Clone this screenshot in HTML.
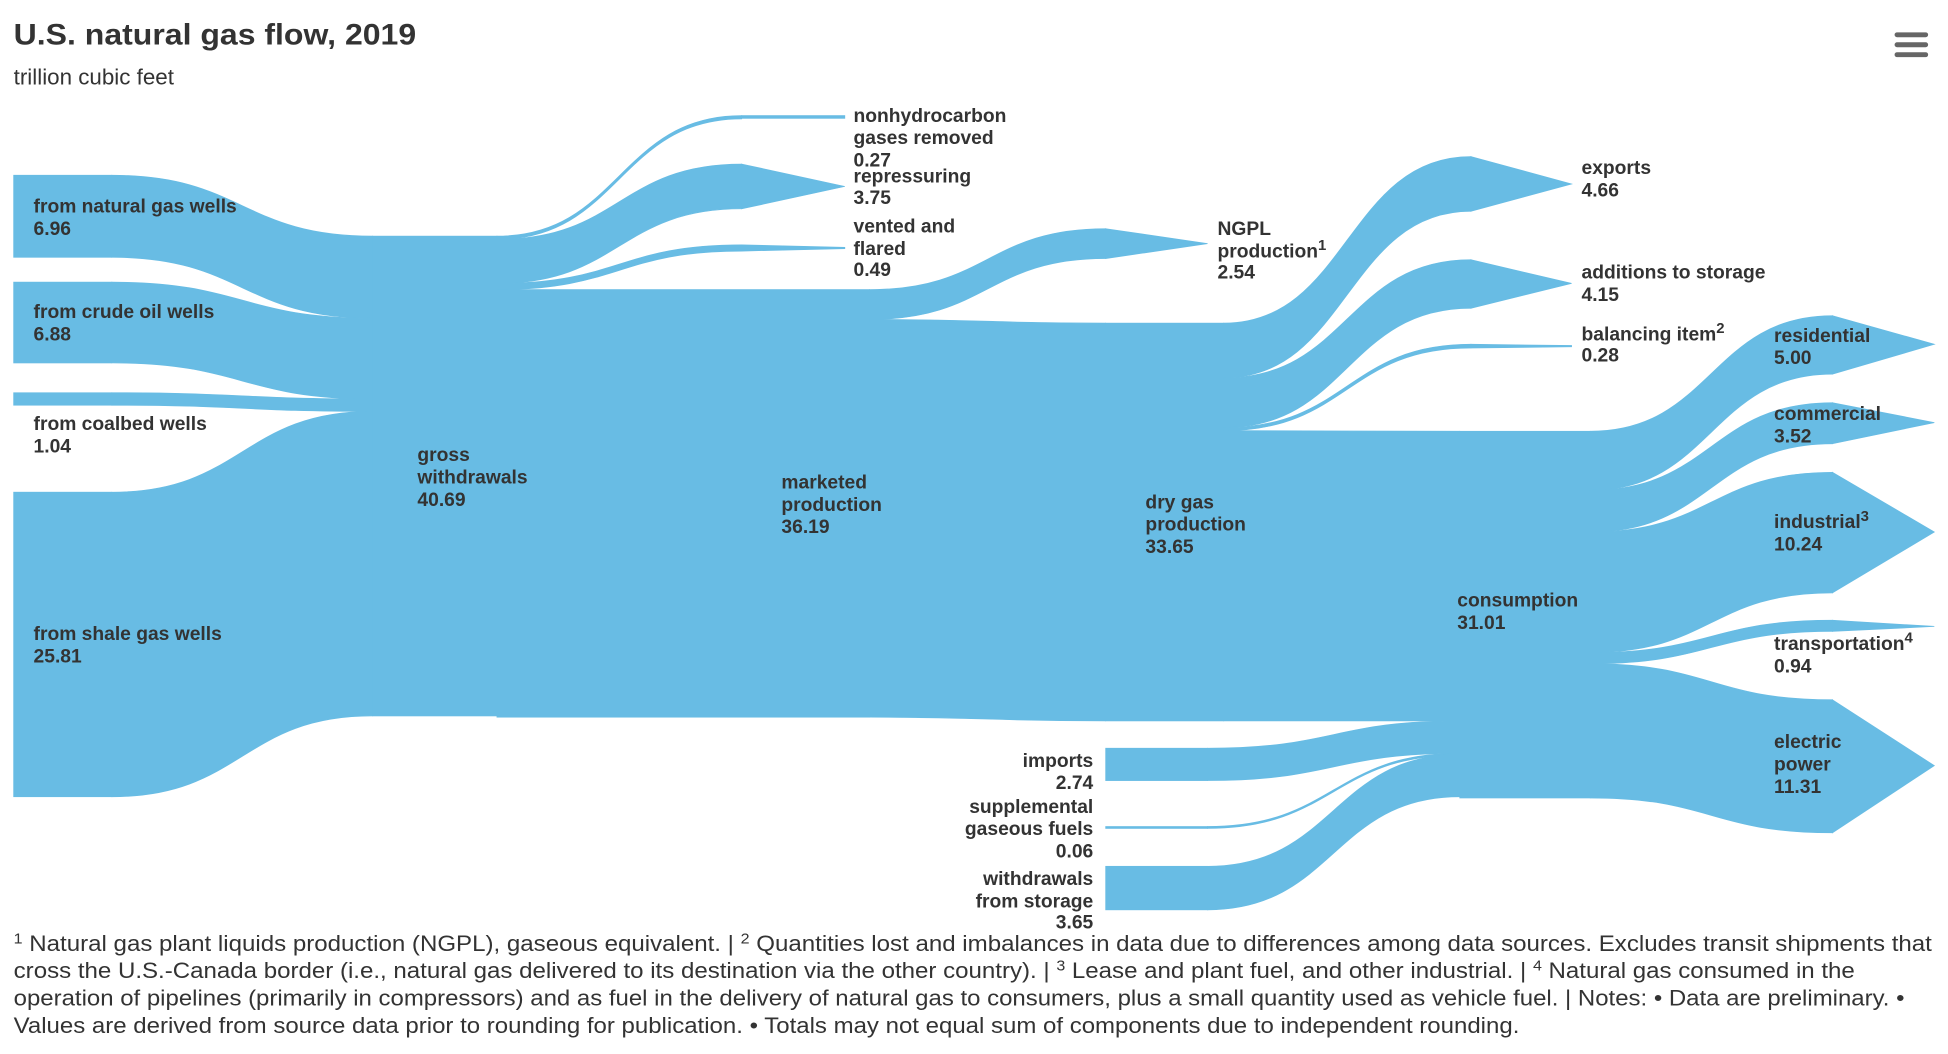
<!DOCTYPE html>
<html><head><meta charset="utf-8"><style>
html,body{margin:0;padding:0;background:#fff;}
svg{display:block;}
text{font-family:"Liberation Sans",Arial,sans-serif;fill:#333;}
.l{font-size:15.5px;font-weight:bold;}
</style></head><body>
<svg width="1948" height="1054" viewBox="0 0 1568 848" preserveAspectRatio="none" xmlns="http://www.w3.org/2000/svg">
<g fill="#68bce4" stroke="#68bce4" stroke-width="0.6">
<rect x="11" y="141" width="79" height="66"/>
<rect x="11" y="227" width="79" height="65"/>
<rect x="11" y="316" width="79" height="10"/>
<rect x="11" y="396" width="79" height="245"/>
<path d="M90 141 C195 141 195 190 300 190 L300 256 C195 256 195 207 90 207Z"/>
<path d="M90 227 C195 227 195 256 300 256 L300 321 C195 321 195 292 90 292Z"/>
<path d="M90 316 C195 316 195 321 300 321 L300 331 C195 331 195 326 90 326Z"/>
<path d="M90 396 C195 396 195 331 300 331 L300 576 C195 576 195 641 90 641Z"/>
<rect x="300" y="190" width="100" height="386"/>
<path d="M400 190 C498.5 190 498.5 93 597 93 L597 95.6 C498.5 95.6 498.5 192.6 400 192.6Z"/>
<rect x="597" y="93" width="83" height="2.2"/>
<path d="M400 192.6 C498.5 192.6 498.5 132 597 132 L597 168 C498.5 168 498.5 228 400 228Z"/>
<polygon points="597,132 680,150 597,168"/>
<path d="M400 228 C498.5 228 498.5 197 597 197 L597 202 C498.5 202 498.5 233 400 233Z"/>
<polygon points="597,197 680,199 680,200 597,202"/>
<rect x="400" y="233" width="300" height="344"/>
<path d="M700 233 C795 233 795 184 890 184 L890 208 C795 208 795 257 700 257Z"/>
<polygon points="890,184 972,196 890,208"/>
<path d="M700 257 C795 257 795 260 890 260 L890 580 C795 580 795 577 700 577Z"/>
<rect x="890" y="260" width="95" height="320"/>
<path d="M985 260 C1084.5 260 1084.5 126 1184 126 L1184 170 C1084.5 170 1084.5 304 985 304Z"/>
<polygon points="1184,126 1265,148 1184,170"/>
<path d="M985 304 C1084.5 304 1084.5 209 1184 209 L1184 248 C1084.5 248 1084.5 344 985 344Z"/>
<polygon points="1184,209 1265,228 1184,248"/>
<path d="M985 344 C1084.5 344 1084.5 277 1184 277 L1184 280 C1084.5 280 1084.5 346.5 985 346.5Z"/>
<polygon points="1184,277 1265,278 1265,279 1184,280"/>
<path d="M985 346.5 C1080 346.5 1080 347 1175 347 L1175 580 C1080 580 1080 580 985 580Z"/>
<rect x="890" y="602" width="82" height="26"/>
<rect x="890" y="665" width="82" height="1.5"/>
<rect x="890" y="697" width="82" height="35"/>
<path d="M972 602 C1073.5 602 1073.5 580 1175 580 L1175 606 C1073.5 606 1073.5 628 972 628Z"/>
<path d="M972 665 C1073.5 665 1073.5 606 1175 606 L1175 607.5 C1073.5 607.5 1073.5 666.5 972 666.5Z"/>
<path d="M972 697 C1073.5 697 1073.5 607 1175 607 L1175 641 C1073.5 641 1073.5 732 972 732Z"/>
<rect x="1175" y="347" width="105" height="295"/>
<path d="M1280 347 C1377.5 347 1377.5 254 1475 254 L1475 301 C1377.5 301 1377.5 394.5 1280 394.5Z"/>
<polygon points="1475,254 1557,277 1475,301"/>
<path d="M1280 394.5 C1377.5 394.5 1377.5 324 1475 324 L1475 357 C1377.5 357 1377.5 428 1280 428Z"/>
<polygon points="1475,324 1557,340 1475,357"/>
<path d="M1280 428 C1377.5 428 1377.5 380 1475 380 L1475 477 C1377.5 477 1377.5 525 1280 525Z"/>
<polygon points="1475,380 1557,428 1475,477"/>
<path d="M1280 525 C1377.5 525 1377.5 499 1475 499 L1475 508 C1377.5 508 1377.5 534 1280 534Z"/>
<polygon points="1475,499 1557,504 1475,508"/>
<path d="M1280 534 C1377.5 534 1377.5 563 1475 563 L1475 670 C1377.5 670 1377.5 642 1280 642Z"/>
<polygon points="1475,563 1557,616 1475,670"/>
</g>
<text x="11" y="36" style="font-size:24px;font-weight:bold" textLength="324" lengthAdjust="spacingAndGlyphs">U.S. natural gas flow, 2019</text>
<text x="11" y="68" style="font-size:18px">trillion cubic feet</text>
<g fill="#666"><rect x="1525" y="26" width="27" height="4" rx="2"/><rect x="1525" y="34" width="27" height="4" rx="2"/><rect x="1525" y="42" width="27" height="4" rx="2"/></g>
<g class="l">
<text class="l" x="27" y="171">from natural gas wells</text><text class="l" x="27" y="189">6.96</text>
<text class="l" x="27" y="256">from crude oil wells</text><text class="l" x="27" y="274">6.88</text>
<text class="l" x="27" y="346">from coalbed wells</text><text class="l" x="27" y="364">1.04</text>
<text class="l" x="27" y="515">from shale gas wells</text><text class="l" x="27" y="533">25.81</text>
<text class="l" x="336" y="371">gross</text><text class="l" x="336" y="389">withdrawals</text><text class="l" x="336" y="407">40.69</text>
<text class="l" x="687" y="98">nonhydrocarbon</text><text class="l" x="687" y="116">gases removed</text><text class="l" x="687" y="134">0.27</text>
<text class="l" x="687" y="147">repressuring</text><text class="l" x="687" y="164">3.75</text>
<text class="l" x="687" y="187">vented and</text><text class="l" x="687" y="205">flared</text><text class="l" x="687" y="222">0.49</text>
<text class="l" x="629" y="393">marketed</text><text class="l" x="629" y="411">production</text><text class="l" x="629" y="429">36.19</text>
<text class="l" x="980" y="189">NGPL</text><text class="l" x="980" y="207">production<tspan dy="-6" font-size="12">1</tspan></text><text class="l" x="980" y="224">2.54</text>
<text class="l" x="922" y="409">dry gas</text><text class="l" x="922" y="427">production</text><text class="l" x="922" y="445">33.65</text>
<text class="l" x="1273" y="140">exports</text><text class="l" x="1273" y="158">4.66</text>
<text class="l" x="1273" y="224">additions to storage</text><text class="l" x="1273" y="242">4.15</text>
<text class="l" x="1273" y="274">balancing item<tspan dy="-6" font-size="12">2</tspan></text><text class="l" x="1273" y="291">0.28</text>
<text class="l" x="1428" y="275">residential</text><text class="l" x="1428" y="293">5.00</text>
<text class="l" x="1428" y="338">commercial</text><text class="l" x="1428" y="356">3.52</text>
<text class="l" x="1428" y="425">industrial<tspan dy="-6" font-size="12">3</tspan></text><text class="l" x="1428" y="443">10.24</text>
<text class="l" x="1173" y="488">consumption</text><text class="l" x="1173" y="506">31.01</text>
<text class="l" x="1428" y="523">transportation<tspan dy="-6" font-size="12">4</tspan></text><text class="l" x="1428" y="541">0.94</text>
<text class="l" x="1428" y="602">electric</text><text class="l" x="1428" y="620">power</text><text class="l" x="1428" y="638">11.31</text>
<g text-anchor="end">
<text class="l" x="880" y="617">imports</text><text class="l" x="880" y="635">2.74</text>
<text class="l" x="880" y="654">supplemental</text><text class="l" x="880" y="672">gaseous fuels</text><text class="l" x="880" y="690">0.06</text>
<text class="l" x="880" y="712">withdrawals</text><text class="l" x="880" y="730">from storage</text><text class="l" x="880" y="747">3.65</text>
</g>
</g>
<g style="font-size:18px">
<text x="11" y="765" textLength="1544" lengthAdjust="spacingAndGlyphs"><tspan font-size="12" dy="-6">1</tspan><tspan dy="6"> Natural gas plant liquids production (NGPL), gaseous equivalent. | </tspan><tspan font-size="12" dy="-6">2</tspan><tspan dy="6"> Quantities lost and imbalances in data due to differences among data sources. Excludes transit shipments that</tspan></text>
<text x="11" y="787" textLength="1482" lengthAdjust="spacingAndGlyphs">cross the U.S.-Canada border (i.e., natural gas delivered to its destination via the other country). | <tspan font-size="12" dy="-6">3</tspan><tspan dy="6"> Lease and plant fuel, and other industrial. | </tspan><tspan font-size="12" dy="-6">4</tspan><tspan dy="6"> Natural gas consumed in the</tspan></text>
<text x="11" y="809" textLength="1522" lengthAdjust="spacingAndGlyphs">operation of pipelines (primarily in compressors) and as fuel in the delivery of natural gas to consumers, plus a small quantity used as vehicle fuel. | Notes: • Data are preliminary. •</text>
<text x="11" y="831" textLength="1212" lengthAdjust="spacingAndGlyphs">Values are derived from source data prior to rounding for publication. • Totals may not equal sum of components due to independent rounding.</text>
</g>
</svg>
</body></html>
